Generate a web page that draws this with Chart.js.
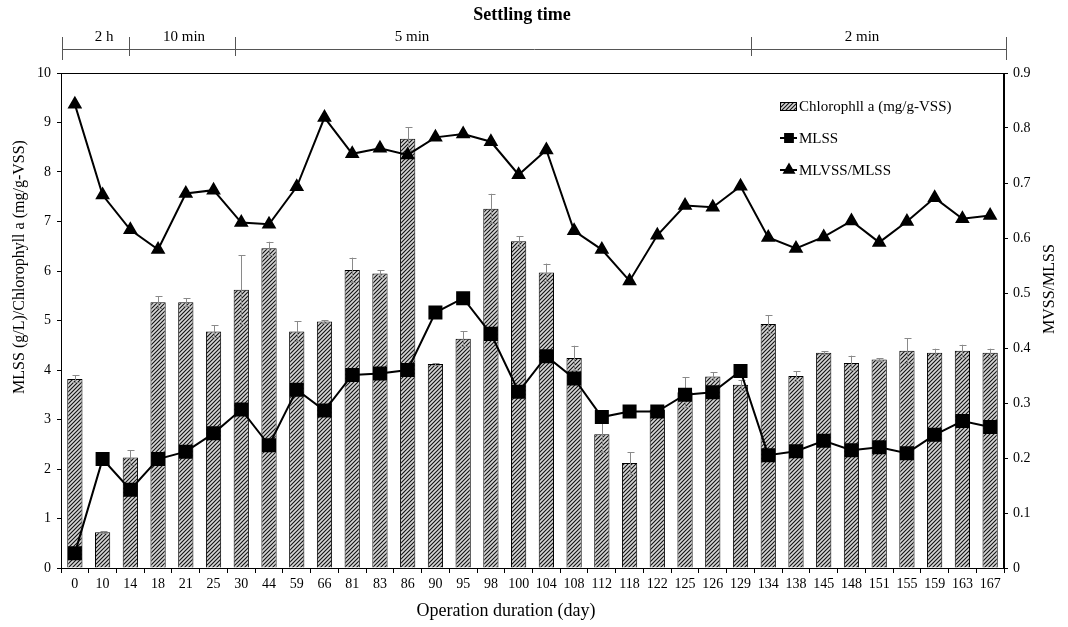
<!DOCTYPE html>
<html><head><meta charset="utf-8">
<script src="https://cdn.jsdelivr.net/npm/chart.js@4"></script>
<style>html,body{margin:0;padding:0;background:#fff}#wrap{width:1068px;height:627px}</style>
</head><body><div id="wrap"><canvas id="c" width="1068" height="627"></canvas></div>
<script>
const days = ['0','10','14','18','21','25','30','44','59','66','81','83','86','90','95','98','100','104','108','112','118','122','125','126','129','134','138','145','148','151','155','159','163','167'];
const chlorophyll = [3.82,0.72,2.23,5.37,5.37,4.78,5.62,6.46,4.78,4.98,6.02,5.95,8.67,4.12,4.63,7.26,6.60,5.97,4.24,2.70,2.12,3.20,3.55,3.87,3.70,4.93,3.88,4.35,4.14,4.21,4.39,4.35,4.39,4.35];
const chlorophyllErr = [0.07,0.02,0.15,0.12,0.08,0.12,0.70,0.13,0.20,0.03,0.25,0.07,0.23,0.02,0.15,0.30,0.10,0.18,0.25,0.35,0.22,0.05,0.30,0.08,0.10,0.18,0.10,0.03,0.15,0.03,0.25,0.08,0.12,0.08];
const mlss = [0.30,2.20,1.58,2.20,2.35,2.72,3.20,2.48,3.60,3.18,3.90,3.93,4.00,5.16,5.45,4.73,3.56,4.28,3.83,3.05,3.16,3.16,3.50,3.55,3.98,2.28,2.36,2.57,2.38,2.44,2.32,2.69,2.97,2.85];
const ratio = [0.843,0.678,0.615,0.579,0.681,0.687,0.628,0.625,0.693,0.819,0.753,0.763,0.751,0.783,0.789,0.775,0.715,0.760,0.613,0.579,0.522,0.605,0.659,0.656,0.694,0.601,0.581,0.602,0.631,0.592,0.630,0.673,0.635,0.641];
const leftTicks = [0,1,2,3,4,5,6,7,8,9,10];
const rightTicks = [0,0.1,0.2,0.3,0.4,0.5,0.6,0.7,0.8,0.9];
const settlingLabels = ['2 h','10 min','5 min','2 min'];

const SERIF = '"Liberation Serif","Times New Roman",serif';

function makePattern(){
  const t = document.createElement('canvas');
  t.width = 4; t.height = 4;
  const g = t.getContext('2d');
  g.fillStyle = '#d6d6d6'; g.fillRect(0,0,4,4);
  g.strokeStyle = '#111'; g.lineWidth = 1.1;
  g.beginPath();
  g.moveTo(0,4); g.lineTo(4,0);
  g.moveTo(-1,1); g.lineTo(1,-1);
  g.moveTo(3,5); g.lineTo(5,3);
  g.stroke();
  return document.getElementById('c').getContext('2d').createPattern(t,'repeat');
}
const hatch = makePattern();

const decorPlugin = {
  id:'decor',
  afterDatasetDraw(chart, args){
    if(args.index !== 0) return;
    const ctx = chart.ctx, x = chart.scales.x, y = chart.scales.y;
    ctx.save();
    ctx.strokeStyle = '#8a8a8a'; ctx.lineWidth = 1;
    chlorophyll.forEach((v,i)=>{
      const e = chlorophyllErr[i];
      const px = Math.round(x.getPixelForValue(i))+0.5;
      const yt = y.getPixelForValue(v+e), yb = y.getPixelForValue(v-e);
      ctx.beginPath();
      ctx.moveTo(px,yt); ctx.lineTo(px,yb);
      ctx.moveTo(px-3,Math.round(yt)+0.5); ctx.lineTo(px+4,Math.round(yt)+0.5);
      ctx.moveTo(px-3,Math.round(yb)+0.5); ctx.lineTo(px+4,Math.round(yb)+0.5);
      ctx.stroke();
    });
    ctx.restore();
  },
  afterDraw(chart){
    const ctx = chart.ctx, a = chart.chartArea;
    ctx.save();
    ctx.strokeStyle = '#000'; ctx.lineWidth = 1;
    ctx.strokeRect(Math.round(a.left)+0.5, Math.round(a.top)+0.5, Math.round(a.right-a.left)-1, Math.round(a.bottom-a.top));
    ctx.fillStyle = '#000';
    ctx.font = 'bold 18px '+SERIF;
    ctx.textAlign = 'center'; ctx.textBaseline = 'middle';
    ctx.fillText('Settling time', 522, 15);
    const W = a.right - a.left;
    const frac = [0.001, 0.072, 0.184, 0.732, 1.002];
    const xs = frac.map(f => Math.round(a.left + f*W)+0.5);
    ctx.strokeStyle = '#555';
    ctx.beginPath();
    ctx.moveTo(xs[0],49.5); ctx.lineTo(xs[4],49.5);
    xs.forEach((px,i)=>{
      const top = 37, bot = (i===0||i===4)?60:56;
      ctx.moveTo(px,top); ctx.lineTo(px,bot);
    });
    ctx.stroke();
    ctx.font = '15px '+SERIF;
    const lx = [104, 184, 412, 862];
    settlingLabels.forEach((s,i)=> ctx.fillText(s, lx[i], 37));
    ctx.font = '18px '+SERIF;
    ctx.fillText('Operation duration (day)', 506, 611);
    ctx.font = '16px '+SERIF;
    ctx.save(); ctx.translate(20, 267); ctx.rotate(-Math.PI/2);
    ctx.fillText('MLSS (g/L)/Chlorophyll a (mg/g-VSS)', 0, 0); ctx.restore();
    ctx.save(); ctx.translate(1050, 289); ctx.rotate(-Math.PI/2);
    ctx.fillText('MVSS/MLSS', 0, 0); ctx.restore();
    ctx.textAlign = 'left';
    ctx.font = '15px '+SERIF;
    const ds = chart.data.datasets;
    const rows = [106, 138, 170];
    ctx.fillStyle = hatch;
    ctx.fillRect(780, 102, 17, 8);
    ctx.strokeStyle = '#000'; ctx.lineWidth = 1;
    ctx.strokeRect(780.5, 102.5, 16, 8);
    ctx.fillStyle = '#000';
    ctx.fillText(ds[0].label, 799, rows[0]+1);
    [1,2].forEach((k)=>{
      const yy = rows[k];
      ctx.lineWidth = 2; ctx.strokeStyle = '#000';
      ctx.beginPath(); ctx.moveTo(780, yy); ctx.lineTo(797, yy); ctx.stroke();
      Chart.helpers.drawPoint(ctx, {pointStyle: ds[k].pointStyle, radius: 5.5, borderWidth:1}, 789, yy);
      ctx.fill();
      ctx.fillText(ds[k].label, 799, yy+1);
    });
    ctx.restore();
  }
};

const tickFont = {family: SERIF, size: 14};

new Chart(document.getElementById('c'), {
  data: {
    labels: days,
    datasets: [
      {type:'bar', label:'Chlorophll a (mg/g-VSS)', data: chlorophyll, yAxisID:'y',
       backgroundColor: hatch, borderColor:'#000', borderWidth:1, order:3,
       categoryPercentage:1, barPercentage:0.55},
      {type:'line', label:'MLSS', data: mlss, yAxisID:'y', borderColor:'#000', borderWidth:2,
       pointStyle:'rect', pointRadius:8.5, pointBackgroundColor:'#000', pointBorderColor:'#000', tension:0, order:2},
      {type:'line', label:'MLVSS/MLSS', data: ratio, yAxisID:'y1', borderColor:'#000', borderWidth:2,
       pointStyle:'triangle', pointRadius:6.5, pointBackgroundColor:'#000', pointBorderColor:'#000', tension:0, order:1}
    ]
  },
  options: {
    responsive:false, animation:false, devicePixelRatio:1,
    layout:{padding:{top:73, left:0, right:0, bottom:0}},
    plugins:{legend:{display:false}, tooltip:{enabled:false}},
    scales:{
      x:{type:'category', offset:true,
         grid:{display:true, drawOnChartArea:false, drawTicks:true, tickLength:5, offset:true, color:'#000'},
         border:{display:true, color:'#000'},
         ticks:{font:tickFont, color:'#000', maxRotation:0, autoSkip:false, padding:3},
         afterFit(s){ s.height = 59; }},
      y:{position:'left', min:0, max:10,
         afterBuildTicks(s){ s.ticks = leftTicks.map(v=>({value:v})); },
         ticks:{font:tickFont, color:'#000', padding:6, callback:v=>String(v)},
         grid:{display:true, drawOnChartArea:false, tickLength:4, color:'#000'},
         border:{display:true, color:'#000'},
         afterFit(s){ s.width = 61; }},
      y1:{position:'right', min:0, max:0.9,
         afterBuildTicks(s){ s.ticks = rightTicks.map(v=>({value:v})); },
         ticks:{font:tickFont, color:'#000', padding:5, callback:v=> v===0?'0':(Math.round(v*10)/10).toFixed(1)},
         grid:{display:true, drawOnChartArea:false, tickLength:4, color:'#000'},
         border:{display:true, color:'#000'},
         afterFit(s){ s.width = 64; }}
    }
  },
  plugins:[decorPlugin]
});
</script>
</body></html>
